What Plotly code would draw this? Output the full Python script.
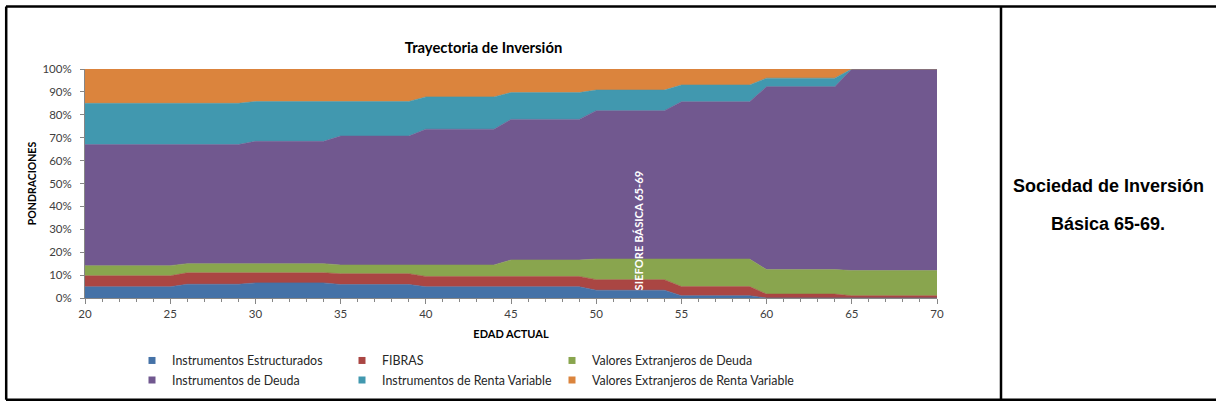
import plotly.graph_objects as go

# ---------------- data (percent of portfolio by age) ----------------
ages = [20, 21, 22, 23, 24, 25, 26, 27, 28, 29, 30, 31, 32, 33, 34, 35, 36, 37, 38, 39,
        40, 41, 42, 43, 44, 45, 46, 47, 48, 49, 50, 51, 52, 53, 54, 55, 56, 57, 58, 59,
        60, 61, 62, 63, 64, 65, 66, 67, 68, 69, 70]

instrumentos_estructurados = [
    4.9, 4.9, 4.9, 4.9, 4.9, 4.9,
    6.0, 6.0, 6.0, 6.0,
    6.6, 6.6, 6.6, 6.6, 6.6,
    5.9, 5.9, 5.9, 5.9, 5.9,
    4.9, 4.9, 4.9, 4.9, 4.9,
    4.9, 4.9, 4.9, 4.9, 4.9,
    3.4, 3.4, 3.4, 3.4, 3.4,
    1.0, 1.0, 1.0, 1.0, 1.0,
    0.0, 0.0, 0.0, 0.0, 0.0,
    0.0, 0.0, 0.0, 0.0, 0.0, 0.0]

fibras = [
    4.8, 4.8, 4.8, 4.8, 4.8, 4.8,
    5.0, 5.0, 5.0, 5.0,
    4.4, 4.4, 4.4, 4.4, 4.4,
    4.7, 4.7, 4.7, 4.7, 4.7,
    4.5, 4.5, 4.5, 4.5, 4.5,
    4.5, 4.5, 4.5, 4.5, 4.5,
    4.6, 4.6, 4.6, 4.6, 4.6,
    4.0, 4.0, 4.0, 4.0, 4.0,
    1.7, 1.7, 1.7, 1.7, 1.7,
    1.0, 1.0, 1.0, 1.0, 1.0, 1.0]

valores_ext_deuda = [
    4.4, 4.4, 4.4, 4.4, 4.4, 4.4,
    4.0, 4.0, 4.0, 4.0,
    4.0, 4.0, 4.0, 4.0, 4.0,
    3.8, 3.8, 3.8, 3.8, 3.8,
    5.0, 5.0, 5.0, 5.0, 5.0,
    7.2, 7.2, 7.2, 7.2, 7.2,
    9.0, 9.0, 9.0, 9.0, 9.0,
    12.0, 12.0, 12.0, 12.0, 12.0,
    10.7, 10.7, 10.7, 10.7, 10.7,
    11.0, 11.0, 11.0, 11.0, 11.0, 11.0]

instrumentos_deuda = [
    52.9, 52.9, 52.9, 52.9, 52.9, 52.9,
    52.0, 52.0, 52.0, 52.0,
    53.4, 53.4, 53.4, 53.4, 53.4,
    56.3, 56.3, 56.3, 56.3, 56.3,
    59.3, 59.3, 59.3, 59.3, 59.3,
    61.4, 61.4, 61.4, 61.4, 61.4,
    64.8, 64.8, 64.8, 64.8, 64.8,
    68.7, 68.7, 68.7, 68.7, 68.7,
    79.9, 79.9, 79.9, 79.9, 79.9,
    88.0, 88.0, 88.0, 88.0, 88.0, 88.0]

renta_variable = [
    18.0, 18.0, 18.0, 18.0, 18.0, 18.0,
    18.0, 18.0, 18.0, 18.0,
    17.4, 17.4, 17.4, 17.4, 17.4,
    15.1, 15.1, 15.1, 15.1, 15.1,
    14.1, 14.1, 14.1, 14.1, 14.1,
    11.7, 11.7, 11.7, 11.7, 11.7,
    9.0, 9.0, 9.0, 9.0, 9.0,
    7.3, 7.3, 7.3, 7.3, 7.3,
    3.7, 3.7, 3.7, 3.7, 3.7,
    0.0, 0.0, 0.0, 0.0, 0.0, 0.0]

valores_ext_rv = [
    15.0, 15.0, 15.0, 15.0, 15.0, 15.0,
    15.0, 15.0, 15.0, 15.0,
    14.2, 14.2, 14.2, 14.2, 14.2,
    14.2, 14.2, 14.2, 14.2, 14.2,
    12.2, 12.2, 12.2, 12.2, 12.2,
    10.3, 10.3, 10.3, 10.3, 10.3,
    9.2, 9.2, 9.2, 9.2, 9.2,
    7.0, 7.0, 7.0, 7.0, 7.0,
    4.0, 4.0, 4.0, 4.0, 4.0,
    0.0, 0.0, 0.0, 0.0, 0.0, 0.0]

series_names = ["Instrumentos Estructurados", "FIBRAS", "Valores Extranjeros de Deuda",
                "Instrumentos de Deuda", "Instrumentos de Renta Variable",
                "Valores Extranjeros de Renta Variable"]
series_values = [instrumentos_estructurados, fibras, valores_ext_deuda,
                 instrumentos_deuda, renta_variable, valores_ext_rv]
series_colors = ["#4572A7", "#AA4643", "#89A54E", "#71588F", "#4198AF", "#DB843D"]
series_legend = ["legend", "legend", "legend", "legend2", "legend2", "legend2"]
series_legendwidth = [None, None, 240, None, None, 240]

# ---------------- geometry ----------------
W, H = 1216, 407
ML, MR, MT, MB = 85, 279, 69, 105
PW = W - ML - MR
PH = H - MT - MB


def px_x(px):
    return (px - ML) / PW


def px_y(py):
    return (MT + PH - py) / PH


fig = go.Figure()

for name, vals, color in zip(series_names, series_values, series_colors):
    fig.add_trace(go.Scatter(
        x=ages, y=vals, name=name, mode="lines", stackgroup="one",
        line=dict(width=0.6, color=color), fillcolor=color,
        showlegend=False, legendgroup=name))

for name, color, leg, lw in zip(series_names, series_colors, series_legend, series_legendwidth):
    extra = {} if lw is None else {"legendwidth": lw}
    fig.add_trace(go.Scatter(
        x=[None], y=[None], name=name, mode="markers",
        marker=dict(symbol="square", size=7, color=color),
        legendgroup=name, legend=leg, showlegend=True, **extra))

axis_grey = "#868686"
fig.update_layout(
    width=W, height=H,
    margin=dict(l=ML, r=MR, t=MT, b=MB),
    paper_bgcolor="white", plot_bgcolor="white",
    font=dict(family="Lato", size=11, color="#404040"),
    title=dict(text="<b>Trayectoria de Inversión</b>", xref="container", x=483.5 / W,
               xanchor="center", yref="container", y=1 - 48 / H, yanchor="middle",
               font=dict(family="Lato", size=14.8, color="black")),
    xaxis=dict(range=[20, 70], tick0=20, dtick=5, ticks="outside", ticklen=5,
               tickcolor=axis_grey, showline=True, linecolor=axis_grey,
               showgrid=True, gridcolor="white", gridwidth=1.5, zeroline=False,
               layer="above traces",
               minor=dict(dtick=1, ticks="outside", ticklen=3, tickcolor=axis_grey,
                          showgrid=False),
               tickfont=dict(size=11.5, color="#404040"),
               title=dict(text="<b>EDAD ACTUAL</b>", standoff=11,
                          font=dict(size=11, color="black"))),
    yaxis=dict(range=[0, 100], dtick=10, ticksuffix="%", ticks="outside", ticklen=4,
               tickcolor=axis_grey, showline=True, linecolor=axis_grey,
               showgrid=False, zeroline=False, ticklabelstandoff=6,
               tickfont=dict(size=11.5, color="#404040"),
               title=dict(text="<b>PONDRACIONES</b>", standoff=3,
                          font=dict(size=10.5, color="black"))),
    legend=dict(orientation="h", x=px_x(132), xanchor="left", y=px_y(366),
                yanchor="middle", entrywidth=165, bgcolor="rgba(0,0,0,0)",
                font=dict(size=12.4, color="#262626"), tracegroupgap=0),
    legend2=dict(orientation="h", x=px_x(132), xanchor="left", y=px_y(386),
                 yanchor="middle", entrywidth=165, bgcolor="rgba(0,0,0,0)",
                 font=dict(size=12.4, color="#262626"), tracegroupgap=0),
    showlegend=True,
)

# in-chart rotated label
fig.add_annotation(x=52.45, y=29.5, xref="x", yref="y", text="<b>SIEFORE BÁSICA 65-69</b>",
                   textangle=-90, showarrow=False,
                   font=dict(family="Lato", size=11.2, color="white"))

# side panel text
fig.add_annotation(x=px_x(1108), y=px_y(188), xref="paper", yref="paper",
                   text="<b>Sociedad de Inversión</b>", showarrow=False,
                   xanchor="center", yanchor="middle",
                   font=dict(family="Liberation Sans", size=18, color="black"))
fig.add_annotation(x=px_x(1108), y=px_y(227), xref="paper", yref="paper",
                   text="<b>Básica 65-69.</b>", showarrow=False,
                   xanchor="center", yanchor="middle",
                   font=dict(family="Liberation Sans", size=18, color="black"))

# frame lines of the table layout
frame = dict(color="black", width=2.5)
for x0, y0, x1, y1 in [(6, 5.3, 1216, 5.3), (6, 405.5, 1216, 405.5),
                       (6.2, 5.3, 6.2, 405.5), (1001, 5.3, 1001, 405.5)]:
    fig.add_shape(type="line", xref="paper", yref="paper",
                  x0=px_x(x0), y0=px_y(y0), x1=px_x(x1), y1=px_y(y1), line=frame)

fig.write_html("out.html", config={"displayModeBar": False},
               post_script="document.body.style.margin='0';")
